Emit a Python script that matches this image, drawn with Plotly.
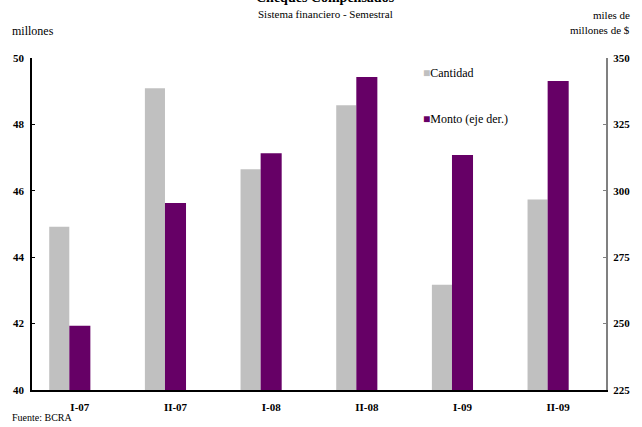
import plotly.graph_objects as go

categories = ["I-07", "II-07", "I-08", "II-08", "I-09", "II-09"]
cantidad = [44.92, 49.09, 46.65, 48.58, 43.17, 45.74]
monto = [249.2, 295.4, 314.1, 342.8, 313.5, 341.3]
left_ticks = [40, 42, 44, 46, 48, 50]
right_ticks = [225, 250, 275, 300, 325, 350]

FONT = "Liberation Serif"
GRAY = "#C0C0C0"
PURPLE = "#660066"
xpos = list(range(len(categories)))

fig = go.Figure()
fig.add_trace(go.Bar(
    x=xpos, y=cantidad, name="Cantidad", marker=dict(color=GRAY, line=dict(width=0)),
    width=0.21, offset=-0.32, yaxis="y",
))
fig.add_trace(go.Bar(
    x=xpos, y=monto, name="Monto (eje der.)", marker=dict(color=PURPLE, line=dict(width=0)),
    width=0.22, offset=-0.11, yaxis="y2",
))

fig.update_layout(
    width=642, height=427,
    margin=dict(l=32, r=26, t=58, b=37),
    paper_bgcolor="white", plot_bgcolor="white",
    font=dict(family=FONT, color="black", size=11),
    barmode="overlay",
    showlegend=False,
    xaxis=dict(
        range=[-0.5, 5.5], tickmode="array", tickvals=xpos, ticktext=categories,
        showgrid=False, zeroline=False, showline=True, linecolor="black", linewidth=1.5,
        ticks="", ticklabelstandoff=6,
        tickfont=dict(family=FONT, size=11, color="black", weight="bold"),
    ),
    yaxis=dict(
        range=[40, 50], tickmode="array", tickvals=left_ticks,
        showgrid=False, zeroline=False, showline=True, linecolor="black", linewidth=1.5,
        ticks="inside", ticklen=3, tickcolor="black", ticklabelstandoff=4,
        tickfont=dict(family=FONT, size=11, color="black", weight="bold"),
    ),
    yaxis2=dict(
        range=[225, 350], tickmode="array", tickvals=right_ticks,
        overlaying="y", side="right",
        showgrid=False, zeroline=False, showline=True, linecolor="#808080", linewidth=2,
        ticks="inside", ticklen=3, tickcolor="#808080", ticklabelstandoff=3,
        tickfont=dict(family=FONT, size=11, color="black", weight="bold"),
    ),
)

annotations = [
    dict(text="<b>Cheques Compensados</b>", x=0.512, y=1.181, font=dict(size=14),
         xanchor="center", yanchor="middle"),
    dict(text="Sistema financiero - Semestral", x=0.512, y=1.1325, font=dict(size=11),
         xanchor="center", yanchor="middle"),
    dict(text="millones", x=-0.038, y=1.081, font=dict(size=12),
         xanchor="left", yanchor="middle"),
    dict(text="miles de", x=1.0445, y=1.1295, font=dict(size=11),
         xanchor="right", yanchor="middle"),
    dict(text="millones de $", x=1.0445, y=1.0845, font=dict(size=11),
         xanchor="right", yanchor="middle"),
    dict(text="Fuente: BCRA", x=-0.038, y=-0.084, font=dict(size=10),
         xanchor="left", yanchor="middle"),
    dict(text=f'<span style="color:{GRAY}">■</span>Cantidad', x=0.677, y=0.955,
         font=dict(size=12), xanchor="left", yanchor="middle"),
    dict(text=f'<span style="color:{PURPLE}">■</span>Monto (eje der.)', x=0.677, y=0.816,
         font=dict(size=12), xanchor="left", yanchor="middle"),
]
for a in annotations:
    a.update(xref="paper", yref="paper", showarrow=False)
    a["font"]["family"] = FONT
    a["font"]["color"] = "black"
fig.update_layout(annotations=annotations)

fig.write_html("out.html", config={"displayModeBar": False},
               post_script="document.body.style.margin='0';")
